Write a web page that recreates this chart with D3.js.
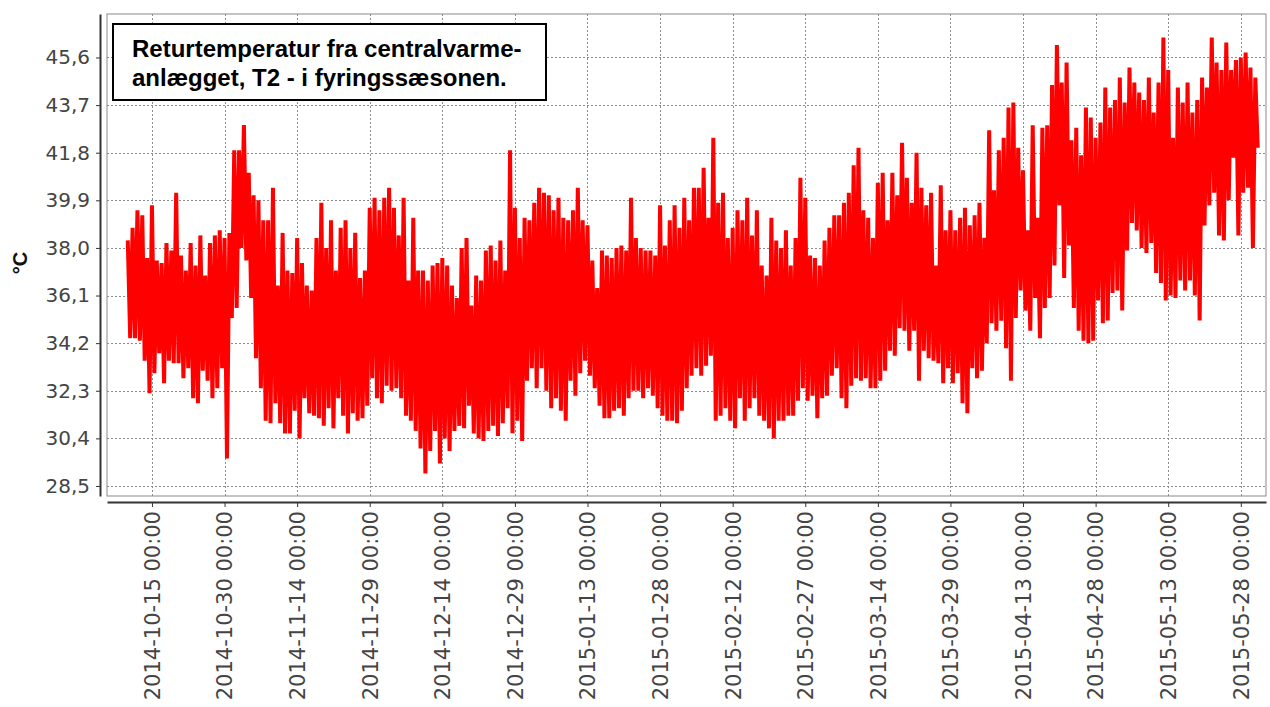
<!DOCTYPE html>
<html>
<head>
<meta charset="utf-8">
<script src="https://cdn.jsdelivr.net/npm/d3@7"></script>
<style>
  html, body { margin: 0; padding: 0; background: #fff; }
  svg { display: block; }
</style>
</head>
<body>
<svg id="chart" width="1270" height="707"></svg>
<script>
// Return temperature T2, one max/min pair per day from 2014-10-10
const firstDay = "2014-10-10";
const dailyMax = [
  38.3, 38.8, 39.5, 39.3, 37.6, 39.7, 37.5, 37.4, 38.2, 37.9,
  40.2, 37.7, 37.1, 38.2, 37.3, 38.5, 36.9, 38.2, 38.5, 38.7,
  38.4, 38.6, 41.9, 41.9, 42.9, 41.0, 40.1, 39.9, 39.1, 39.1,
  40.4, 36.5, 38.6, 37.1, 37.0, 38.4, 37.4, 36.5, 36.3, 38.4,
  39.8, 38.0, 39.1, 37.1, 38.8, 39.1, 38.0, 38.6, 36.8, 37.1,
  39.6, 40.0, 39.5, 40.0, 40.4, 39.6, 38.5, 40.0, 36.7, 39.2,
  37.1, 37.1, 36.7, 37.3, 37.4, 37.6, 37.3, 36.5, 36.0, 38.0,
  38.4, 35.7, 36.9, 36.7, 37.9, 38.1, 37.5, 38.3, 37.1, 41.9,
  39.6, 38.4, 39.2, 39.1, 39.8, 40.4, 40.2, 40.1, 39.5, 40.0,
  39.2, 39.1, 39.5, 40.4, 39.1, 38.9, 37.5, 36.4, 37.9, 37.7,
  37.6, 38.0, 38.1, 37.9, 40.0, 38.4, 38.0, 37.9, 37.9, 37.7,
  39.7, 38.1, 39.1, 39.7, 38.8, 40.0, 39.1, 40.4, 40.4, 41.2,
  39.2, 42.4, 39.8, 40.2, 38.4, 38.8, 39.5, 39.1, 40.0, 38.5,
  39.5, 37.3, 36.9, 39.2, 38.3, 38.0, 38.7, 37.3, 38.4, 40.8,
  40.0, 37.7, 37.6, 37.3, 38.3, 38.8, 39.3, 39.3, 39.8, 40.2,
  41.3, 42.0, 39.5, 39.2, 38.4, 40.6, 41.0, 39.1, 41.0, 40.1,
  42.2, 40.8, 39.8, 41.8, 40.4, 39.7, 40.2, 37.3, 40.5, 38.7,
  39.5, 38.7, 39.2, 39.6, 38.9, 39.3, 39.8, 38.4, 42.7, 40.3,
  41.9, 42.4, 43.6, 43.8, 42.0, 41.1, 38.7, 42.9, 39.2, 42.8,
  42.9, 44.5, 46.1, 44.6, 45.4, 42.3, 42.8, 41.7, 43.6, 43.2,
  42.4, 43.0, 44.4, 43.6, 43.9, 44.8, 43.8, 45.2, 44.6, 44.2,
  43.9, 44.8, 43.4, 44.6, 46.4, 45.1, 42.4, 44.4, 43.8, 44.6,
  43.4, 43.9, 44.8, 44.4, 46.4, 45.4, 45.1, 46.2, 45.1, 45.5,
  45.6, 45.8, 45.2, 44.8
];
const dailyMin = [
  34.4, 34.4, 34.3, 33.5, 32.2, 33.0, 33.8, 32.6, 33.5, 33.4,
  33.4, 32.8, 33.2, 32.0, 31.8, 33.1, 32.7, 32.0, 32.4, 33.2,
  29.6, 35.2, 35.6, 38.0, 37.5, 36.0, 33.6, 32.4, 31.1, 31.0,
  31.8, 31.0, 30.6, 30.6, 31.5, 30.4, 32.0, 31.4, 31.3, 31.2,
  30.9, 31.6, 30.8, 32.0, 31.3, 30.6, 31.4, 31.1, 31.2, 31.7,
  32.8, 32.0, 31.8, 32.5, 32.3, 32.4, 32.0, 31.3, 31.1, 30.7,
  30.0, 29.0, 29.9, 30.7, 29.4, 30.4, 29.9, 30.7, 30.9, 30.8,
  31.7, 30.6, 30.4, 30.3, 30.7, 30.9, 30.5, 31.0, 31.6, 30.6,
  31.1, 30.3, 32.7, 33.2, 32.4, 33.2, 32.3, 31.6, 32.0, 31.5,
  31.1, 32.7, 32.1, 33.0, 33.5, 32.9, 32.4, 31.7, 31.2, 31.2,
  31.5, 31.6, 31.3, 32.0, 32.3, 32.3, 32.0, 32.4, 32.1, 31.6,
  31.3, 31.1, 31.1, 31.0, 31.5, 32.4, 32.9, 33.2, 32.9, 33.3,
  33.7, 31.1, 31.3, 31.6, 31.1, 30.8, 32.0, 31.1, 31.6, 32.0,
  31.3, 31.1, 30.8, 30.4, 31.1, 31.1, 31.3, 31.3, 31.9, 32.4,
  31.9, 32.1, 31.2, 32.0, 32.1, 32.9, 33.2, 32.0, 31.6, 32.5,
  32.8, 32.7, 32.8, 32.4, 32.4, 32.7, 33.1, 33.9, 33.7, 34.8,
  34.7, 33.9, 34.7, 32.7, 33.9, 33.6, 33.5, 33.4, 32.6, 33.2,
  32.6, 33.0, 31.8, 31.4, 33.2, 32.8, 33.1, 34.2, 35.0, 34.7,
  35.1, 34.0, 32.7, 35.2, 36.3, 35.5, 34.7, 36.0, 34.4, 35.6,
  36.0, 37.3, 39.7, 36.8, 38.1, 35.6, 34.7, 34.3, 34.2, 34.3,
  35.9, 35.0, 35.1, 36.2, 36.3, 35.5, 37.9, 39.0, 38.7, 38.0,
  37.8, 38.2, 37.0, 36.6, 35.9, 36.1, 36.0, 36.7, 36.3, 36.7,
  36.1, 35.1, 38.9, 39.7, 40.2, 38.5, 38.3, 39.9, 41.6, 38.5,
  40.2, 40.4, 38.0, 42.0
];
const yTickValues = [28.5, 30.4, 32.3, 34.2, 36.1, 38.0, 39.9, 41.8, 43.7, 45.6];
const xTickLabels = [
  "2014-10-15 00:00", "2014-10-30 00:00", "2014-11-14 00:00", "2014-11-29 00:00",
  "2014-12-14 00:00", "2014-12-29 00:00", "2015-01-13 00:00", "2015-01-28 00:00",
  "2015-02-12 00:00", "2015-02-27 00:00", "2015-03-14 00:00", "2015-03-29 00:00",
  "2015-04-13 00:00", "2015-04-28 00:00", "2015-05-13 00:00", "2015-05-28 00:00"
];
const titleLines = ["Returtemperatur fra centralvarme-", "anlægget, T2 - i fyringssæsonen."];
const unitLabel = "°C";

const parseTick = d3.utcParse("%Y-%m-%d %H:%M");
const DAY = 864e5;
const t0 = d3.utcParse("%Y-%m-%d")(firstDay).getTime();

// Each day contributes its high, then its low half a day later.
const points = [];
dailyMax.forEach((hi, i) => {
  points.push({ t: new Date(t0 + i * DAY), v: hi });
  points.push({ t: new Date(t0 + i * DAY + DAY / 2), v: dailyMin[i] });
});

const plot = { left: 107, right: 1266, top: 14, bottom: 496 };
const svg = d3.select("#chart");

const x = d3.scaleUtc()
  .domain([new Date(Date.UTC(2014, 9, 5, 17)), new Date(Date.UTC(2015, 5, 2, 5))])
  .range([plot.left, plot.right]);
const y = d3.scaleLinear()
  .domain([28.10, 47.336])
  .range([plot.bottom, plot.top]);

// plot background + frame
svg.append("rect")
  .attr("x", plot.left).attr("y", plot.top)
  .attr("width", plot.right - plot.left).attr("height", plot.bottom - plot.top)
  .attr("fill", "#fff").attr("stroke", "#8a8a8a").attr("stroke-width", 1);

// dashed grid
const grid = svg.append("g").attr("stroke", "#8c8c8c").attr("stroke-width", 1)
  .attr("stroke-dasharray", "2,2").attr("shape-rendering", "crispEdges");
grid.selectAll("line.h").data(yTickValues).join("line").attr("class", "h")
  .attr("x1", plot.left).attr("x2", plot.right)
  .attr("y1", d => Math.round(y(d)) + 0.5).attr("y2", d => Math.round(y(d)) + 0.5);
grid.selectAll("line.v").data(xTickLabels).join("line").attr("class", "v")
  .attr("y1", plot.top).attr("y2", plot.bottom)
  .attr("x1", d => Math.round(x(parseTick(d))) + 0.5)
  .attr("x2", d => Math.round(x(parseTick(d))) + 0.5);

// temperature line
svg.append("clipPath").attr("id", "plotClip").append("rect")
  .attr("x", plot.left).attr("y", plot.top)
  .attr("width", plot.right - plot.left).attr("height", plot.bottom - plot.top);
svg.append("path")
  .datum(points)
  .attr("clip-path", "url(#plotClip)")
  .attr("fill", "none")
  .attr("stroke", "#ff0000")
  .attr("stroke-width", 4)
  .attr("stroke-linejoin", "miter")
  .attr("d", d3.line().x(d => x(d.t)).y(d => y(d.v)));

// y axis
const yAxis = svg.append("g")
  .attr("transform", "translate(100,0)")
  .call(d3.axisLeft(y).tickValues(yTickValues)
    .tickFormat(d => d.toFixed(1).replace(".", ","))
    .tickSizeInner(4).tickSizeOuter(0).tickPadding(6));
yAxis.select(".domain").attr("stroke", "#333").attr("stroke-width", 2);
yAxis.selectAll(".tick line").attr("stroke", "#333");
yAxis.selectAll(".tick text")
  .attr("fill", "#444")
  .style("font-family", "'DejaVu Sans', sans-serif")
  .style("font-size", "20px");

// x axis
const xAxis = svg.append("g")
  .attr("transform", "translate(0,502)")
  .call(d3.axisBottom(x).tickValues(xTickLabels.map(parseTick))
    .tickFormat((d, i) => xTickLabels[i])
    .tickSizeInner(5).tickSizeOuter(0));
xAxis.select(".domain").attr("stroke", "#333").attr("stroke-width", 2);
xAxis.selectAll(".tick line").attr("stroke", "#333");
xAxis.selectAll(".tick text")
  .attr("transform", "rotate(-90)")
  .attr("x", -9).attr("y", 0).attr("dy", "0.35em")
  .style("text-anchor", "end")
  .attr("fill", "#444")
  .style("font-family", "'DejaVu Sans', sans-serif")
  .style("font-size", "21px");

// unit label
svg.append("text")
  .attr("transform", "translate(27,263) rotate(-90)")
  .attr("text-anchor", "middle")
  .style("font-family", "'Liberation Sans', Arial, sans-serif")
  .style("font-weight", "bold")
  .style("font-size", "20px")
  .attr("fill", "#111")
  .text(unitLabel);

// title box
svg.append("rect")
  .attr("x", 113).attr("y", 24).attr("width", 433).attr("height", 76)
  .attr("fill", "#fff").attr("stroke", "#000").attr("stroke-width", 2);
svg.append("g").selectAll("text").data(titleLines).join("text")
  .attr("x", 132)
  .attr("y", (d, i) => 57 + i * 28.5)
  .style("font-family", "'Liberation Sans', Arial, sans-serif")
  .style("font-weight", "bold")
  .style("font-size", "24px")
  .attr("fill", "#000")
  .text(d => d);
</script>
</body>
</html>
